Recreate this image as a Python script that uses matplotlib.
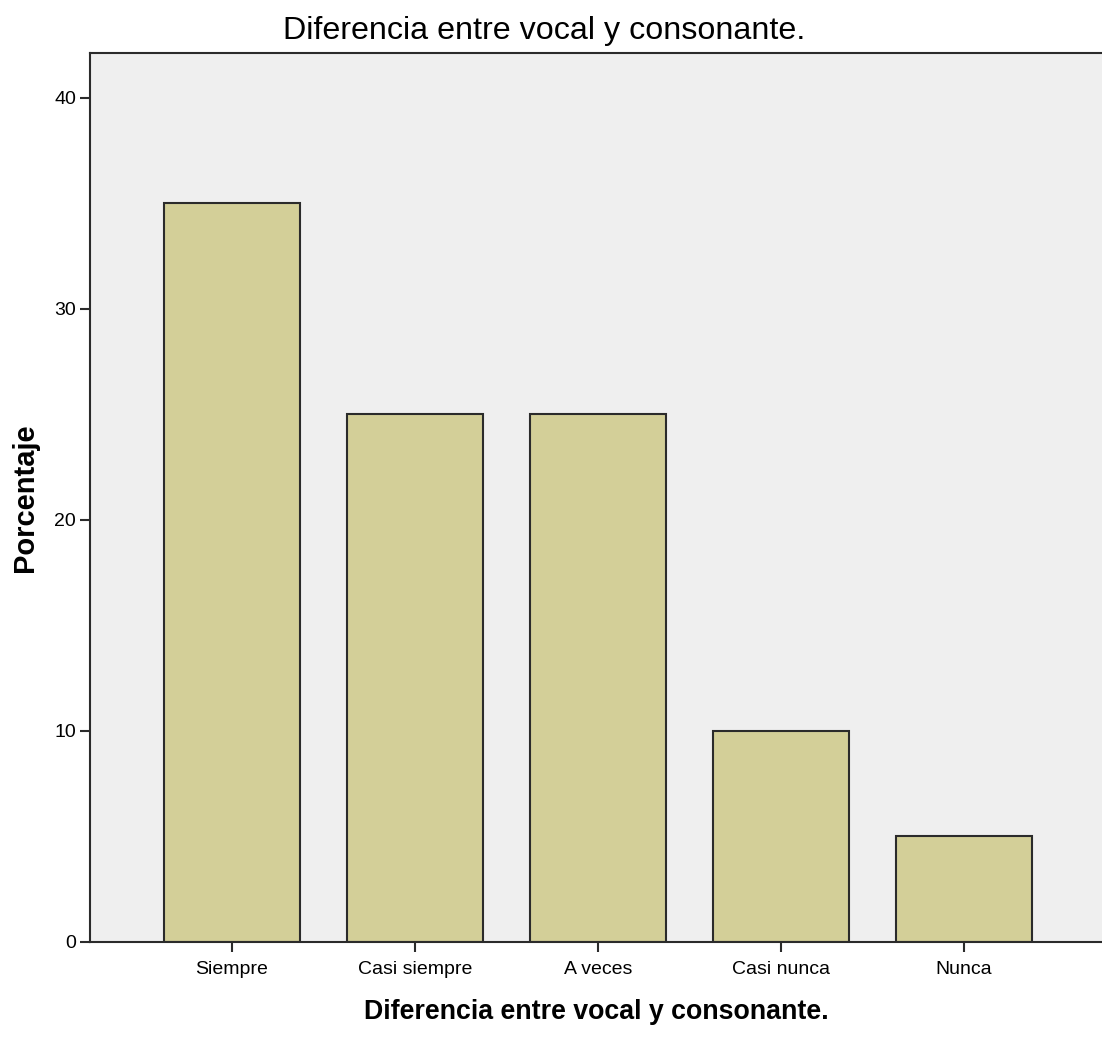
import numpy as np
import matplotlib.pyplot as plt

categories = ["Siempre", "Casi siempre", "A veces", "Casi nunca", "Nunca"]
percent = [35, 25, 25, 10, 5]
yticks = [0, 10, 20, 30, 40]

FONT = ["Liberation Sans", "DejaVu Sans"]
plt.rcParams["font.family"] = FONT

fig = plt.figure(figsize=(11.02, 10.42), dpi=100)
ax = fig.add_axes([90 / 1102, 100 / 1042, 1012 / 1102, 889 / 1042])
ax.set_facecolor("#efefef")

x = np.arange(len(categories))
ax.bar(x, percent, width=0.743, color="#d3cf98", edgecolor="#2b2b2b", linewidth=1.5, zorder=2)

ax.set_xlim(-0.776, 4.754)
ax.set_ylim(0, 42.13)
ax.set_yticks(yticks)
ax.set_xticks(x)
ax.set_xticklabels(categories, fontsize=14)
ax.set_yticklabels([str(t) for t in yticks], fontsize=14)
ax.tick_params(axis="both", direction="out", length=7, width=1.5, color="#2b2b2b")
ax.tick_params(axis="x", pad=7)
ax.tick_params(axis="y", pad=3)

for side in ["left", "bottom", "top"]:
    ax.spines[side].set_linewidth(1.5)
    ax.spines[side].set_color("#2b2b2b")
ax.spines["right"].set_visible(False)

ax.set_ylabel("Porcentaje", fontsize=21, fontweight="bold", labelpad=11)
ax.set_xlabel("Diferencia entre vocal y consonante.", fontsize=19.3, fontweight="bold", labelpad=15)
fig.text(544 / 1102, 1 - 39 / 1042, "Diferencia entre vocal y consonante.", ha="center", va="baseline",
         fontsize=23.2)

fig.savefig("out.png", dpi=100)
